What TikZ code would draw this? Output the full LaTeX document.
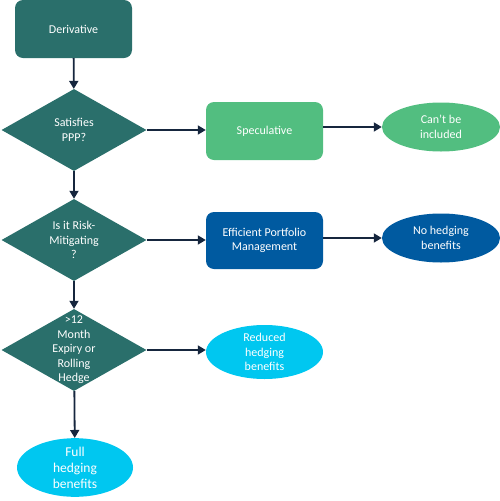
\documentclass[tikz,border=0pt]{standalone}
\usepackage{fontspec}
\setmainfont{Carlito}
\usetikzlibrary{shapes.geometric,arrows.meta}
\definecolor{teal}{RGB}{42,111,107}
\definecolor{sgreen}{RGB}{82,190,128}
\definecolor{dblue}{RGB}{0,90,160}
\definecolor{cyanf}{RGB}{0,199,240}
\definecolor{navy}{RGB}{22,38,62}
\tikzset{
  txt/.style={text=white,font=\fontsize{12}{14.5}\selectfont,align=center},
  rbox/.style={txt,rectangle,rounded corners=8pt,minimum width=117pt,minimum height=58pt,inner sep=0pt},
  dia/.style={diamond,fill=teal,minimum width=145pt,minimum height=82pt,inner sep=0pt},
  ell/.style={txt,ellipse,minimum width=118pt,minimum height=49pt,inner sep=0pt},
  arr/.style={navy,line width=1.8pt,-{Triangle[length=8pt,width=9pt]}}
}
\begin{document}
\begin{tikzpicture}[x=1pt,y=-1pt]
\useasboundingbox (0,0) rectangle (500,501);
\node[rbox,fill=teal] (der) at (73.5,29) {Derivative};
\node[dia,label={[txt]center:Satisfies\\PPP?}] (d1) at (74,130) {};
\node[dia,label={[txt]center:Is it Risk-\\Mitigating\\?}] (d2) at (74,240) {};
\node[dia,label={[txt]center:>12\\Month\\Expiry or\\Rolling\\Hedge}] (d3) at (74,350) {};
\node[rbox,fill=sgreen] (spec) at (264.5,131) {Speculative};
\node[rbox,fill=dblue,minimum height=57pt] (epm) at (264.5,240.5) {Efficient Portfolio\\Management};
\node[ell,fill=sgreen] (cant) at (441,127) {Can’t be\\included};
\node[ell,fill=dblue] (noh) at (441,238) {No hedging\\benefits};
\node[ell,fill=cyanf,minimum width=117pt,minimum height=54pt] (red) at (264.5,352) {Reduced\\hedging\\benefits};
\node[ell,fill=cyanf,minimum width=116pt,font=\fontsize{13.5}{16}\selectfont] (full) at (75,467.5) {Full\\hedging\\benefits};
\draw[arr] (der) -- (d1);
\draw[arr] (d1) -- (d2);
\draw[arr] (d2) -- (d3);
\draw[arr] (d3) -- (full);
\draw[arr] (d1) -- (d1 -| spec.west);
\draw[arr] (spec.east |- cant.west) -- (cant.west);
\draw[arr] (d2) -- (d2 -| epm.west);
\draw[arr] (epm.east |- noh.west) -- (noh.west);
\draw[arr] (d3) -- (d3 -| red.west);
\end{tikzpicture}
\end{document}
